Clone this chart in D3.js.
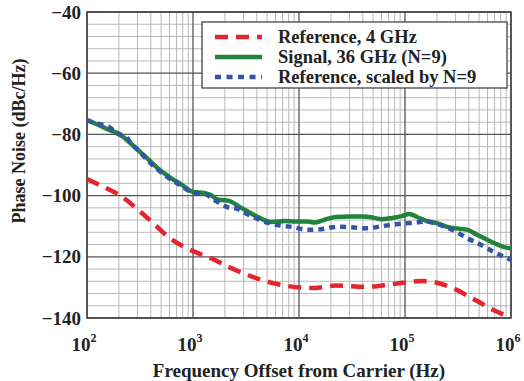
<!DOCTYPE html>
<html>
<head>
<meta charset="utf-8">
<script src="https://cdn.jsdelivr.net/npm/d3@7"></script>
<style>
  html, body { margin: 0; padding: 0; background: #fff; }
  svg { display: block; }
  text { font-family: "Liberation Serif", "Times New Roman", serif; font-weight: bold; fill: #222; }
</style>
</head>
<body>
<svg id="chart" width="524" height="381"></svg>
<script>
// Phase noise of the 4 GHz reference, the 36 GHz output, and the reference scaled by N=9
const refFreq = [100, 150, 200, 300, 440, 580, 840, 1110, 1600, 2300, 3600, 6200, 10000, 14000, 22000, 43000, 77000, 145000, 200000, 280000, 470000, 780000, 1000000];
const refDb   = [-94.6, -97.5, -99.7, -104.5, -109.6, -113.4, -116.9, -118.8, -121, -123.7, -126.5, -128.9, -130, -130.2, -129.4, -129.8, -128.9, -127.9, -128.5, -130.2, -134.3, -138.3, -139.5];

const sigFreq = [100, 130, 160, 200, 250, 300, 350, 410, 480, 550, 650, 750, 1000, 1300, 1500, 1700, 2000, 2300, 2700, 3100, 4100, 5500, 7400, 9200, 12000, 14000, 17000, 22000, 30000, 40000, 50000, 60000, 75000, 93000, 110000, 130000, 160000, 200000, 250000, 320000, 390000, 480000, 600000, 750000, 900000, 1000000];
const sigDb   = [-75.3, -77, -78.5, -79.8, -82.5, -85, -87, -89.3, -91.5, -93, -94.8, -96, -98.8, -99.2, -100, -101.3, -101.5, -102, -103.5, -104.7, -107, -108.6, -108.3, -108.5, -108.5, -108.8, -108, -107, -106.8, -106.8, -107.2, -107.7, -107.3, -106.7, -106, -107, -108.3, -109, -110.2, -110.8, -111.2, -112.8, -114.5, -116, -117, -117.2];

const scaledFreq = [100, 125, 160, 200, 230, 260, 300, 400, 550, 750, 1000, 1300, 1600, 2200, 2600, 3100, 4000, 5200, 6200, 8800, 12000, 16000, 23000, 30000, 44000, 60000, 86000, 120000, 160000, 214000, 280000, 385000, 515000, 680000, 1000000];
const scaledDb   = [-75.5, -76.5, -77.5, -80, -80.5, -83, -85, -89.5, -93.5, -96.5, -99, -99.5, -101.5, -104, -104.3, -105.7, -107.5, -109, -109.6, -110.3, -111.2, -111, -110.2, -110.3, -110.7, -110, -109.3, -108.9, -108.5, -109.6, -111.2, -113.9, -116, -118.3, -121];

const xTickExp = [2, 3, 4, 5, 6];
const yTicks = [-140, -120, -100, -80, -60, -40];

const seriesNames = ["Reference, 4 GHz", "Signal, 36 GHz (N=9)", "Reference, scaled by N=9"];
const seriesColors = ["#e3262d", "#22843c", "#3454ac"];
const seriesDash = ["13,8", null, "6,5"];

const svg = d3.select("#chart");
const plotL = 87, plotR = 511, plotT = 12, plotB = 318;

const x = d3.scaleLog().domain([1e2, 1e6]).range([plotL, plotR]);
const y = d3.scaleLinear().domain([-140, -40]).range([plotB, plotT]);

// grid: minor log lines and 4 dB steps, then decade / 20 dB lines
const minorX = [];
for (let e = 2; e < 6; e++) for (let m = 2; m <= 9; m++) minorX.push(m * Math.pow(10, e));
const minorY = d3.range(-140, -39, 4).filter(v => v % 20 !== 0);

const grid = svg.append("g");
grid.selectAll(".mx").data(minorX).join("line")
  .attr("x1", d => x(d)).attr("x2", d => x(d)).attr("y1", plotT).attr("y2", plotB)
  .attr("stroke", "#b8b8b8").attr("stroke-width", 1);
grid.selectAll(".my").data(minorY).join("line")
  .attr("x1", plotL).attr("x2", plotR).attr("y1", d => y(d)).attr("y2", d => y(d))
  .attr("stroke", "#b8b8b8").attr("stroke-width", 1);
grid.selectAll(".Mx").data(xTickExp.map(e => Math.pow(10, e))).join("line")
  .attr("x1", d => x(d)).attr("x2", d => x(d)).attr("y1", plotT).attr("y2", plotB)
  .attr("stroke", "#555").attr("stroke-width", 1.3);
grid.selectAll(".My").data(yTicks).join("line")
  .attr("x1", plotL).attr("x2", plotR).attr("y1", d => y(d)).attr("y2", d => y(d))
  .attr("stroke", "#555").attr("stroke-width", 1.3);

svg.append("rect").attr("x", plotL).attr("y", plotT)
  .attr("width", plotR - plotL).attr("height", plotB - plotT)
  .attr("fill", "none").attr("stroke", "#444").attr("stroke-width", 1.5);

// axes labels
const xAxis = svg.append("g");
xAxis.selectAll("text").data(xTickExp).join("text")
  .attr("x", d => x(Math.pow(10, d)) - 3)
  .attr("y", 351)
  .attr("text-anchor", "middle")
  .attr("font-size", 19)
  .each(function (d) {
    const t = d3.select(this);
    t.append("tspan").text("10");
    t.append("tspan").attr("dy", -9).attr("font-size", 12).text(d);
  });

svg.append("g").selectAll("text").data(yTicks).join("text")
  .attr("x", 81).attr("y", d => y(d) + 6.5)
  .attr("text-anchor", "end").attr("font-size", 19)
  .text(d => d3.format("")(d).replace("-", "\u2212"));

svg.append("text").attr("x", 299).attr("y", 377)
  .attr("text-anchor", "middle").attr("font-size", 19)
  .text("Frequency Offset from Carrier (Hz)");

svg.append("text")
  .attr("transform", "translate(25,141) rotate(-90)")
  .attr("text-anchor", "middle").attr("font-size", 18)
  .text("Phase Noise (dBc/Hz)");

// curves
const line = d3.line().x(d => x(d[0])).y(d => y(d[1])).curve(d3.curveMonotoneX);
const series = [
  d3.zip(refFreq, refDb),
  d3.zip(sigFreq, sigDb),
  d3.zip(scaledFreq, scaledDb)
];
const drawOrder = [1, 2, 0];
const plot = svg.append("g");
drawOrder.forEach(i => {
  plot.append("path").datum(series[i])
    .attr("d", line)
    .attr("fill", "none")
    .attr("stroke", seriesColors[i])
    .attr("stroke-width", 4.5)
    .attr("stroke-dasharray", seriesDash[i])
    .attr("stroke-linecap", "butt");
});

// legend
const lg = svg.append("g");
lg.append("rect").attr("x", 202).attr("y", 22).attr("width", 305).attr("height", 66)
  .attr("fill", "#fff").attr("stroke", "#444").attr("stroke-width", 1.3);
seriesNames.forEach((name, i) => {
  const ly = 37 + i * 20;
  lg.append("line").attr("x1", 215).attr("x2", 262).attr("y1", ly).attr("y2", ly)
    .attr("stroke", seriesColors[i]).attr("stroke-width", 4.5)
    .attr("stroke-dasharray", i === 0 ? "13,8" : i === 2 ? "6,5.5" : null);
  lg.append("text").attr("x", 278).attr("y", ly + 6)
    .attr("font-size", 18.5).text(name);
});
</script>
</body>
</html>
